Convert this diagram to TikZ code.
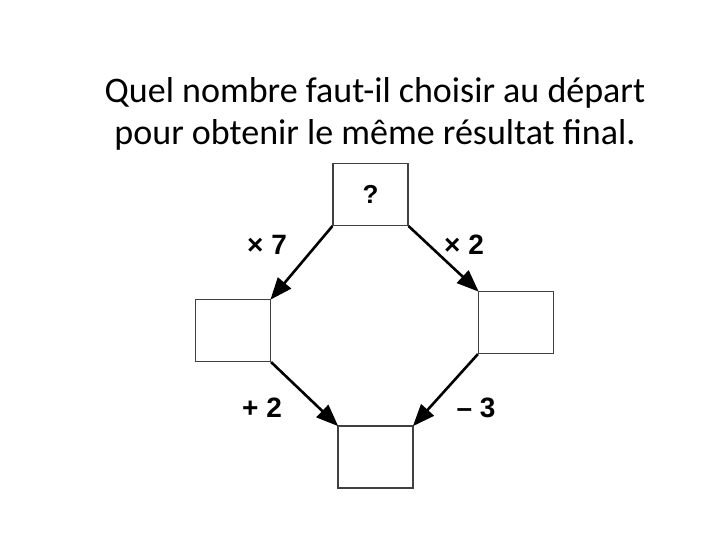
\documentclass[tikz,border=0pt]{standalone}
\usepackage{fontspec}
\setmainfont{Carlito}
\newfontfamily\labelfont{Liberation Sans}
\usetikzlibrary{arrows.meta}
\tikzset{
  numbox/.style={draw=black!75, line width=1.1pt, rectangle, minimum width=75pt, minimum height=62pt, inner sep=0pt},
  oparrow/.style={line width=2.6pt, -{Triangle[length=22pt, width=17pt]}, shorten >=-1pt},
  oplabel/.style={font=\labelfont\bfseries\fontsize{28}{30}\selectfont}
}

\begin{document}
\begin{tikzpicture}[x=1pt, y=-1pt]%
\useasboundingbox (0,0) rectangle (720,540);%
\node[align=center, font=\fontsize{36}{42}\selectfont] (title) at (375, 114) {Quel nombre faut-il choisir au départ\\pour obtenir le même résultat final.};%
\node[numbox, font=\labelfont\bfseries\fontsize{26}{30}\selectfont] (start) at (370.5, 194.5) {\raisebox{-3pt}{?}};%
\node[numbox] (left) at (233, 330.5) {};%
\node[numbox] (right) at (516, 322.5) {};%
\node[numbox] (final) at (375.5, 457) {};%
\draw[oparrow] (start.south west) -- (left.north east);%
\draw[oparrow] (start.south east) -- (right.north west);%
\draw[oparrow] (left.south east) -- (final.north west);%
\draw[oparrow] (right.south west) -- (final.north east);%
\node[oplabel] (times7) at (267, 245) {× 7};%
\node[oplabel] (times2) at (464, 245) {× 2};%
\node[oplabel] (plus2) at (262, 408) {+ 2};%
\node[oplabel] (minus3) at (476, 408) {– 3};%
\end{tikzpicture}
\end{document}
